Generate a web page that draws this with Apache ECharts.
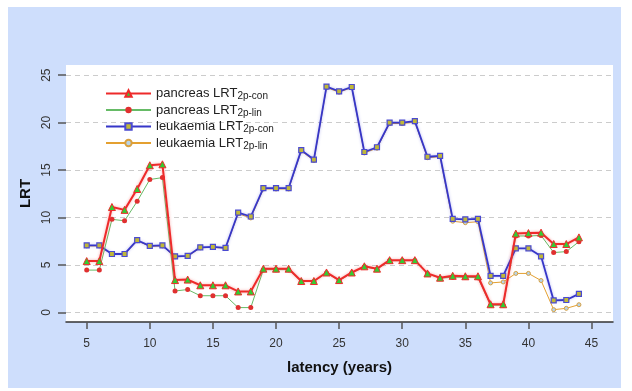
<!DOCTYPE html>
<html>
<head>
<meta charset="utf-8">
<script src="https://cdn.jsdelivr.net/npm/echarts@6/dist/echarts.min.js"></script>
<style>
  html, body { margin: 0; padding: 0; background: #ffffff; }
  #chart { width: 632px; height: 391px; }
</style>
</head>
<body>
<div id="chart"></div>
<script>
// Latency in years (x axis)
const latency = [5,6,7,8,9,10,11,12,13,14,15,16,17,18,19,20,21,22,23,24,
                 25,26,27,28,29,30,31,32,33,34,35,36,37,38,39,40,41,42,43,44];

// LRT values per latency
const pancreasCon = [5.4,5.4,11.1,10.8,13.0,15.5,15.6,3.4,3.45,2.85,2.85,2.85,2.2,2.2,4.6,4.6,4.6,3.3,3.3,4.2,
                     3.4,4.2,4.85,4.6,5.5,5.5,5.5,4.1,3.65,3.85,3.8,3.8,0.85,0.85,8.3,8.35,8.4,7.2,7.2,7.9];
const pancreasLin = [4.45,4.45,9.8,9.65,11.7,14.0,14.2,2.25,2.4,1.75,1.75,1.75,0.5,0.5,4.5,4.5,4.5,3.25,3.25,4.15,
                     3.35,4.15,4.8,4.55,5.45,5.45,5.45,4.1,3.6,3.7,3.7,3.65,0.75,0.75,8.05,8.05,8.1,6.3,6.4,7.45];
const leukaemiaCon = [7.05,7.05,6.15,6.15,7.6,7.0,7.05,5.9,5.95,6.85,6.9,6.8,10.5,10.1,13.1,13.1,13.1,17.1,16.1,23.8,
                      23.3,23.75,16.9,17.4,20.0,20.0,20.15,16.4,16.5,9.85,9.8,9.85,3.85,3.85,6.75,6.75,5.9,1.25,1.3,1.95];
const leukaemiaLin = [7.0,7.0,6.1,6.1,7.55,6.95,7.0,5.85,5.9,6.8,6.85,6.75,10.4,9.95,13.0,13.0,13.0,17.0,16.0,23.7,
                      23.2,23.7,16.8,17.3,19.9,19.9,20.05,16.3,16.4,9.6,9.45,9.55,3.1,3.2,4.1,4.1,3.35,0.28,0.42,0.8];

const xTicks = [5,10,15,20,25,30,35,40,45];
const yTicks = [0,5,10,15,20,25];

const seriesNames = [
  'pancreas LRT{sub|2p-con}',
  'pancreas LRT{sub|2p-lin}',
  'leukaemia LRT{sub|2p-con}',
  'leukaemia LRT{sub|2p-lin}'
];

const pairs = arr => latency.map((x, i) => [x, arr[i]]);
const FONT = '"Liberation Sans", Arial, sans-serif';

const chart = echarts.init(document.getElementById('chart'), null, { renderer: 'canvas' });

chart.setOption({
  backgroundColor: '#ffffff',
  animation: false,
  textStyle: { fontFamily: FONT },
  graphic: [{
    type: 'rect',
    z: -10,
    silent: true,
    shape: { x: 8, y: 7, width: 613, height: 381 },
    style: { fill: '#cedefc' }
  }],
  grid: {
    left: 66, top: 65, width: 547, height: 257,
    show: true, backgroundColor: '#ffffff', borderWidth: 0
  },
  legend: {
    orient: 'vertical',
    left: 100, top: 82,
    itemWidth: 45, itemHeight: 8, itemGap: 2,
    data: seriesNames,
    formatter: name => name,
    textStyle: {
      fontSize: 13, color: '#222', fontFamily: FONT,
      rich: {
        sub: { fontSize: 10, color: '#222', fontFamily: FONT, padding: [6, 0, 0, 0] }
      }
    }
  },
  xAxis: {
    type: 'value',
    min: 3.36, max: 46.7,
    name: 'latency (years)',
    nameLocation: 'middle',
    nameGap: 38,
    nameTextStyle: { fontSize: 15, fontWeight: 'bold', color: '#111', fontFamily: FONT },
    axisLine: { show: true, onZero: false, lineStyle: { color: '#333', width: 1.5 } },
    axisTick: { show: true, length: 7, customValues: xTicks, lineStyle: { color: '#555', width: 1.5 } },
    axisLabel: { customValues: xTicks, margin: 16, fontSize: 12, color: '#333', fontFamily: FONT },
    splitLine: { show: false }
  },
  yAxis: {
    type: 'value',
    min: -1.02, max: 26.07,
    name: 'LRT',
    nameLocation: 'middle',
    nameGap: 30,
    nameRotate: 90,
    nameTextStyle: { fontSize: 15, fontWeight: 'bold', color: '#111', fontFamily: FONT },
    axisLine: { show: false },
    axisTick: { show: true, length: 8, customValues: yTicks, lineStyle: { color: '#555', width: 1.5 } },
    axisLabel: { customValues: yTicks, rotate: 90, margin: 13, fontSize: 12, color: '#333', fontFamily: FONT },
    splitLine: { show: true, lineStyle: { color: '#cccccc', type: [5, 4], width: 1 } }
  },
  series: [
    {
      name: seriesNames[0], type: 'line', data: pairs(pancreasCon), z: 4,
      symbol: 'triangle', symbolSize: 7,
      lineStyle: { color: '#ee2a2a', width: 2, shadowColor: 'rgba(238,60,60,0.45)', shadowBlur: 3 },
      itemStyle: { color: '#33cc33', borderColor: '#ee2a2a', borderWidth: 1 }
    },
    {
      name: seriesNames[1], type: 'line', data: pairs(pancreasLin), z: 3,
      symbol: 'circle', symbolSize: 5,
      lineStyle: { color: '#66bb66', width: 1 },
      itemStyle: { color: '#e03030', borderColor: '#e03030', borderWidth: 0 }
    },
    {
      name: seriesNames[2], type: 'line', data: pairs(leukaemiaCon), z: 2,
      symbol: 'rect', symbolSize: 5,
      lineStyle: { color: '#3636c8', width: 1.8, shadowColor: 'rgba(80,80,220,0.4)', shadowBlur: 3 },
      itemStyle: { color: '#c0b838', borderColor: '#4a4ad0', borderWidth: 1.2 }
    },
    {
      name: seriesNames[3], type: 'line', data: pairs(leukaemiaLin), z: 1,
      symbol: 'circle', symbolSize: 4,
      lineStyle: { color: '#e4a030', width: 1 },
      itemStyle: { color: '#b8d4e8', borderColor: '#d8a040', borderWidth: 1 }
    }
  ]
});
</script>
</body>
</html>
